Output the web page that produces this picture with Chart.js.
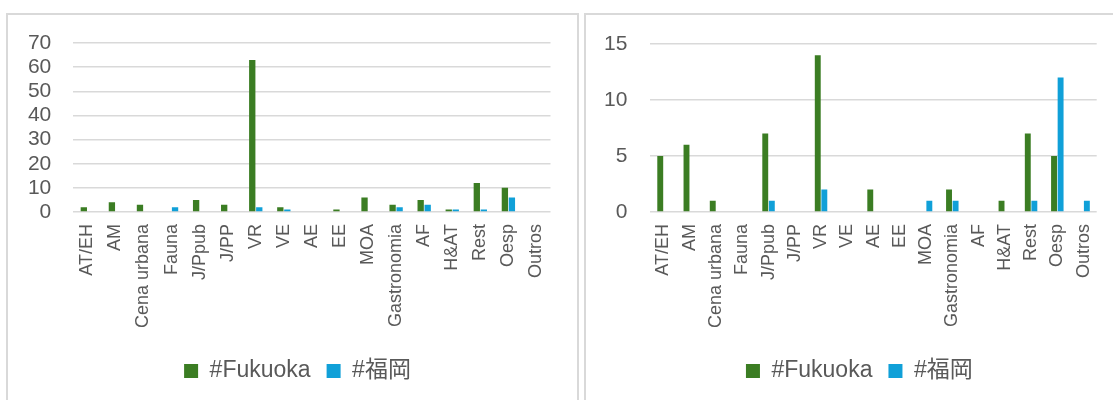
<!DOCTYPE html>
<html>
<head>
<meta charset="utf-8">
<title>#Fukuoka / #福岡</title>
<script src="https://cdn.jsdelivr.net/npm/chart.js@4.4.0/dist/chart.umd.min.js"></script>
<style>
    body { margin: 0; background: #fff; overflow: hidden; }
    .chart-box { position: absolute; top: 13px; height: 400px; border: 2px solid #d9d9d9; background: #fff; }
    #leftBox { left: 6px; width: 569px; }
    #rightBox { left: 584px; width: 540px; }
    canvas { display: block; }
</style>
</head>
<body>
<div class="chart-box" id="leftBox"><canvas id="leftChart" width="569" height="390"></canvas></div>
<div class="chart-box" id="rightBox"><canvas id="rightChart" width="540" height="390"></canvas></div>

<script>
// Categories (same for both charts)
const categories = ['AT/EH', 'AM', 'Cena urbana', 'Fauna', 'J/Ppub', 'J/PP', 'VR', 'VE', 'AE', 'EE',
    'MOA', 'Gastronomia', 'AF', 'H&AT', 'Rest', 'Oesp', 'Outros'];

const seriesNames = ['#Fukuoka', '#福岡'];

// Left chart values
const leftFukuoka   = [2, 4, 3, 0, 5, 3, 63, 2, 0, 1, 6, 3, 5, 1, 12, 10, 0];
const leftFukuokaJa = [0, 0, 0, 2, 0, 0, 2, 1, 0, 0, 0, 2, 3, 1, 1, 6, 0];

// Right chart values
const rightFukuoka   = [5, 6, 1, 0, 7, 0, 14, 0, 2, 0, 0, 2, 0, 1, 7, 5, 0];
const rightFukuokaJa = [0, 0, 0, 0, 1, 0, 2, 0, 0, 0, 1, 1, 0, 0, 1, 12, 1];

// Y axis ticks
const leftTicks  = [0, 10, 20, 30, 40, 50, 60, 70];
const rightTicks = [0, 5, 10, 15];

const green = '#3b7d23';
const blue = '#10a0d8';
const textColor = '#595959';
const gridColor = '#d9d9d9';
const fontFamily = "'Liberation Sans', 'Noto Sans CJK JP', Arial, sans-serif";

// Excel centres the legend a bit right of the canvas middle, so nudge it
const legendShift = {
    id: 'legendShift',
    afterLayout(chart, args, opts) {
        chart.legend.left += opts.dx;
        chart.legend.right += opts.dx;
    }
};

function makeChart(canvasId, fukuoka, fukuokaJa, ticks, box) {
    const ctx = document.getElementById(canvasId).getContext('2d');
    return new Chart(ctx, {
        type: 'bar',
        data: {
            labels: categories,
            datasets: [{
                label: seriesNames[0],
                data: fukuoka,
                backgroundColor: green,
                categoryPercentage: 0.5,
                barPercentage: 0.9
            }, {
                label: seriesNames[1],
                data: fukuokaJa,
                backgroundColor: blue,
                categoryPercentage: 0.5,
                barPercentage: 0.9
            }]
        },
        options: {
            responsive: false,
            animation: false,
            layout: {
                padding: { left: 0, right: box.right, top: box.top, bottom: box.bottom }
            },
            scales: {
                x: {
                    grid: { display: false, drawTicks: false },
                    border: { display: false },
                    ticks: {
                        color: textColor,
                        font: { family: fontFamily, size: 18 },
                        minRotation: 90,
                        maxRotation: 90,
                        autoSkip: false,
                        padding: 12
                    },
                    afterFit: (scale) => { scale.height = box.xHeight; }
                },
                y: {
                    min: ticks[0],
                    max: ticks[ticks.length - 1],
                    grid: { color: gridColor, lineWidth: 1.5, drawTicks: false },
                    border: { display: false },
                    ticks: {
                        stepSize: ticks[1] - ticks[0],
                        autoSkip: false,
                        color: textColor,
                        font: { family: fontFamily, size: 21 },
                        padding: box.yPad
                    },
                    afterFit: (scale) => {
                        scale.width = box.yWidth;
                        scale.paddingTop = 0;
                        scale.paddingBottom = 0;
                    }
                }
            },
            plugins: {
                legend: {
                    position: 'bottom',
                    labels: {
                        color: textColor,
                        font: { family: fontFamily, size: 23 },
                        boxWidth: 14,
                        boxHeight: 14,
                        padding: 16
                    }
                },
                legendShift: { dx: box.legendDx },
                tooltip: { enabled: false }
            }
        },
        plugins: [legendShift]
    });
}

const leftChart = makeChart('leftChart', leftFukuoka, leftFukuokaJa, leftTicks,
    { right: 26.5, top: 28, bottom: 12.5, xHeight: 131.5, yWidth: 65.3, yPad: 22, legendDx: 18.25 });

const rightChart = makeChart('rightChart', rightFukuoka, rightFukuokaJa, rightTicks,
    { right: 29.3, top: 29, bottom: 12.5, xHeight: 131.5, yWidth: 64.4, yPad: 23, legendDx: 18 });
</script>
</body>
</html>
